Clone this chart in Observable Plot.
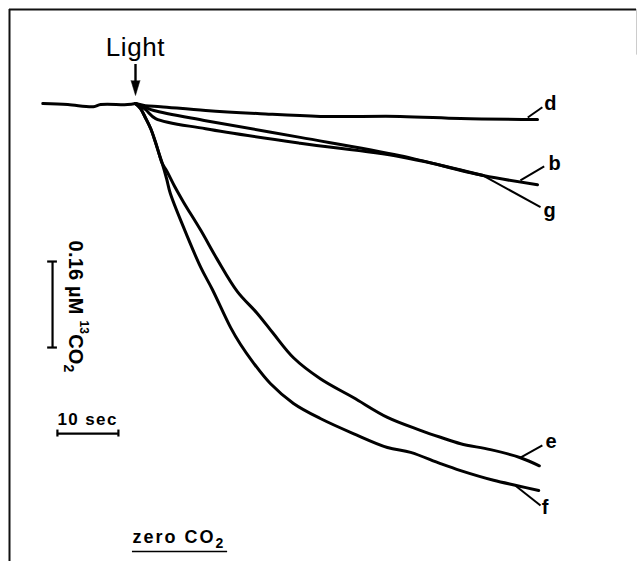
<!DOCTYPE html>
<html>
<head>
<meta charset="utf-8">
<script src="https://cdn.jsdelivr.net/npm/d3@7"></script>
<script src="https://cdn.jsdelivr.net/npm/@observablehq/plot@0.6"></script>
<style>
  html, body { margin: 0; padding: 0; background: #fff; }
</style>
</head>
<body>
<div id="chart"></div>
<script>
// Time in seconds (0 = light switched on), change in 13CO2 in nM (negative = uptake)
const preT = [-15.2, -11.1, -6.9, -5.7, -1.3, 0];
const preV = [0, -2, -6, -2, -2, 0];

const dT = [0, 1.6, 4.1, 11.5, 20.5, 30.3, 43.4, 53.3, 65.9];
const dV = [0, -4, -6, -13, -19, -24, -24, -28, -30];

const bT = [0, 1.6, 3.0, 11.5, 27.0, 43.4, 57.0, 65.9];
const bV = [0, -7, -13, -32, -63, -97, -134, -151];

const gT = [0, 1.6, 3.3, 11.5, 27.0, 43.4, 57.0];
const gV = [0, -11, -28, -47, -74, -99, -134];

const eT = [0, 0.8, 1.6, 2.5, 3.3, 3.9, 4.4, 5.1, 6.4, 7.9, 10.7, 13.4, 16.7, 20.0, 22.6, 25.9, 30.3, 35.7, 41.3, 46.7, 50.0, 53.3, 58.2, 63.1, 66.2];
const eV = [0, -9, -26, -47, -73, -95, -112, -125, -154, -184, -236, -290, -350, -391, -428, -473, -512, -547, -584, -608, -621, -633, -644, -659, -674];

const fT = [0, 0.8, 1.6, 2.5, 3.3, 3.9, 4.4, 5.1, 5.7, 7.9, 10.7, 12.6, 15.6, 17.2, 19.3, 22.1, 25.9, 30.3, 35.7, 41.3, 45.1, 50.0, 53.3, 58.7, 62.6, 66.1];
const fV = [0, -9, -26, -47, -73, -95, -112, -140, -167, -231, -305, -346, -417, -448, -482, -521, -558, -586, -614, -640, -649, -670, -683, -701, -711, -720];

// Trace labels and their leader lines (data units)
const labelNames = ["d", "b", "g", "e", "f"];
const labelT = [67.0, 67.7, 66.9, 67.2, 66.6];
const labelV = [-12, -123, -212, -640, -763];
const leaderT1 = [64.3, 63.1, 57.0, 63.1, 62.3];
const leaderV1 = [-26, -143, -134, -659, -711];
const leaderT2 = [66.7, 67.0, 66.4, 66.7, 66.4];
const leaderV2 = [-7, -117, -193, -636, -748];

// Scale bars
const timeBarSec = 10;      // "10 sec"
const concBarNM = 160;      // "0.16 µM 13CO2"
const timeBarAt = [-12.8, -614];
const concBarAt = [-13.6, -294];

// Annotation positions
const lightAt = [0, 89];
const arrowShaft = [72.6, 40];
const arrowHeadV = 42.8;
const zeroLabelAt = [-0.5, -818.6];
const zeroUnderlineV = -833.5;
const zeroUnderlineT = [-0.5, 15.1];

// Build tables
const series = [
  ["pre", preT, preV], ["d", dT, dV], ["b", bT, bV], ["g", gT, gV], ["e", eT, eV], ["f", fT, fV]
];
const rows = series.flatMap(([name, T, V]) => T.map((t, i) => ({series: name, t, v: V[i]})));
const labels = labelNames.map((n, i) => ({name: n, t: labelT[i], v: labelV[i]}));
const leaders = labelNames.map((n, i) => ({t1: leaderT1[i], v1: leaderV1[i], t2: leaderT2[i], v2: leaderV2[i]}));

const xDomain = [-20.656, 82.131];
const yDomain = [-852.09, 174.88];

const font = "'Liberation Sans', Arial, Helvetica, sans-serif";
const tickT = 0.8, tickV = 6.5;

const chart = Plot.plot({
  width: 638,
  height: 561,
  marginTop: 9,
  marginLeft: 9,
  marginRight: 2,
  marginBottom: 0,
  x: {domain: xDomain, axis: null},
  y: {domain: yDomain, axis: null},
  style: {background: "#fff", fontFamily: font},
  marks: [
    // figure border (left and top)
    Plot.ruleX([xDomain[0]], {stroke: "#111", strokeWidth: 2}),
    Plot.ruleY([yDomain[1]], {stroke: "#111", strokeWidth: 2}),
    Plot.ruleX([xDomain[1]], {y1: yDomain[1], y2: 90, stroke: "#ccc", strokeWidth: 1}),

    // traces
    Plot.line(rows, {x: "t", y: "v", z: "series", curve: "catmull-rom", stroke: "#000", strokeWidth: 3, strokeLinecap: "round", strokeLinejoin: "round"}),

    // leaders and labels
    Plot.link(leaders, {x1: "t1", y1: "v1", x2: "t2", y2: "v2", stroke: "#000", strokeWidth: 2}),
    Plot.text(labels, {x: "t", y: "v", text: "name", textAnchor: "start", lineAnchor: "bottom", fontSize: 20, fontWeight: "bold", fill: "#000"}),

    // Light arrow
    Plot.text(["Light"], {x: lightAt[0], y: lightAt[1], text: d => d, textAnchor: "middle", lineAnchor: "bottom", fontSize: 26, fill: "#000"}),
    Plot.ruleX([0], {y1: arrowShaft[0], y2: arrowShaft[1], stroke: "#000", strokeWidth: 2.4}),
    Plot.vector([0], {x: 0, y: arrowHeadV, length: 15, r: 4.5, rotate: 180, anchor: "start", shape: "spike", fill: "#000", stroke: "#000", strokeWidth: 0.5}),

    // time scale bar
    Plot.ruleY([timeBarAt[1]], {x1: timeBarAt[0], x2: timeBarAt[0] + timeBarSec, stroke: "#000", strokeWidth: 2.2}),
    Plot.ruleX([timeBarAt[0], timeBarAt[0] + timeBarSec], {y1: timeBarAt[1] - tickV, y2: timeBarAt[1] + tickV, stroke: "#000", strokeWidth: 2.2}),
    Plot.text(["10 sec"], {x: timeBarAt[0], y: timeBarAt[1] + 15, text: d => d, textAnchor: "start", lineAnchor: "bottom", fontSize: 17, fontWeight: "bold", fill: "#000"}),

    // concentration scale bar
    Plot.ruleX([concBarAt[0]], {y1: concBarAt[1], y2: concBarAt[1] - concBarNM, stroke: "#000", strokeWidth: 2.2}),
    Plot.ruleY([concBarAt[1], concBarAt[1] - concBarNM], {x1: concBarAt[0] - tickT, x2: concBarAt[0] + tickT, stroke: "#000", strokeWidth: 2.2}),
    Plot.text(["0.16 µM 13CO2"], {x: concBarAt[0] + 3.8, y: concBarAt[1] + 39, text: d => d, rotate: 90, textAnchor: "start", lineAnchor: "middle", fontSize: 20, fontWeight: "bold", fill: "#000"}),

    // zero CO2
    Plot.text(["zero CO2"], {x: zeroLabelAt[0], y: zeroLabelAt[1], text: d => d, textAnchor: "start", lineAnchor: "bottom", fontSize: 18, fontWeight: "bold", fill: "#000"}),
    Plot.ruleY([zeroUnderlineV], {x1: zeroUnderlineT[0], x2: zeroUnderlineT[1], stroke: "#000", strokeWidth: 1.6})
  ]
});

// rich text: super/subscripts and letter spacing
d3.select(chart).selectAll("text").each(function () {
  const s = this.textContent;
  const el = d3.select(this);
  if (s === "zero CO2") {
    el.text(null).style("letter-spacing", "2px");
    el.append("tspan").text("zero CO");
    el.append("tspan").attr("dy", 5).attr("font-size", 14).text("2");
  } else if (s === "0.16 µM 13CO2") {
    el.text(null).style("letter-spacing", "0.2px");
    el.append("tspan").text("0.16 µM ");
    el.append("tspan").attr("dy", -11).attr("font-size", 12).text("13");
    el.append("tspan").attr("dy", 11).text("CO");
    el.append("tspan").attr("dy", 5).attr("font-size", 14).text("2");
  } else if (s === "10 sec") {
    el.style("letter-spacing", "1.4px");
  } else if (s === "Light") {
    el.style("letter-spacing", "0.6px");
  }
});

document.getElementById("chart").appendChild(chart);
</script>
</body>
</html>
